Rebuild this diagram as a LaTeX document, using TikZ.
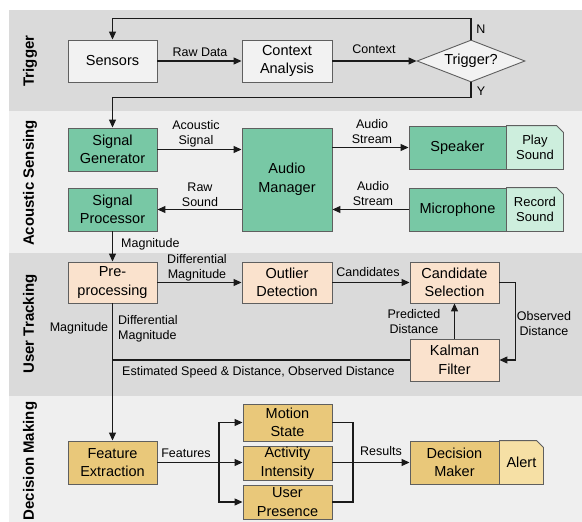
\documentclass[tikz,border=0pt]{standalone}
\usepackage{fontspec}
\setmainfont{Liberation Sans}
\usetikzlibrary{arrows.meta,shapes.geometric}
\definecolor{bandA}{HTML}{DADADA}
\definecolor{bandB}{HTML}{EFEFEF}
\definecolor{boxline}{HTML}{5F5F5F}
\definecolor{lineclr}{HTML}{1A1A1A}
\definecolor{grayfill}{HTML}{F2F2F2}
\definecolor{greenfill}{HTML}{78C8A5}
\definecolor{greenlight}{HTML}{CDEEDD}
\definecolor{peachfill}{HTML}{FAE2CD}
\definecolor{goldfill}{HTML}{E9C87A}
\definecolor{goldlight}{HTML}{F6E0A5}
\begin{document}
\begin{tikzpicture}[x=1pt,y=-1pt,
 box/.style={draw=boxline, line width=0.9pt, minimum width=89pt, minimum height=42pt, inner sep=1pt, align=center, font=\fontsize{14.5}{18.5}\selectfont},
 graybox/.style={box, fill=grayfill},
 greenbox/.style={box, fill=greenfill},
 peachbox/.style={box, fill=peachfill},
 goldbox/.style={box, fill=goldfill},
 side/.style={draw=boxline, line width=0.9pt},
 sidetext/.style={align=center, inner sep=0pt, font=\fontsize{13}{15}\selectfont},
 lbl/.style={font=\fontsize{12.5}{15}\selectfont, align=center, inner sep=0pt},
 sec/.style={font=\bfseries\fontsize{15}{17}\selectfont, rotate=90, inner sep=0pt},
 conn/.style={line width=1.1pt, draw=lineclr},
 arr/.style={conn, -{Triangle[length=8pt,width=7pt]}}]
\useasboundingbox (0,0) rectangle (582,522);
% bands
\fill[bandA] (9,10) rectangle (582,111);
\fill[bandB] (9,111) rectangle (582,253);
\fill[bandA] (9,253) rectangle (582,396);
\fill[bandB] (9,396) rectangle (582,522);
\node[sec] (s1) at (30,61) {Trigger};
\node[sec] (s2) at (30,183) {Acoustic Sensing};
\node[sec] (s3) at (30,324) {User Tracking};
\node[sec] (s4) at (30,461) {Decision Making};
% trigger row
\node[graybox] (sens) at (112.5,61) {Sensors};
\node[graybox, minimum width=90pt] (ctx) at (287,61) {Context\\Analysis};
\node[diamond, draw=boxline, fill=grayfill, line width=0.9pt, minimum width=108pt, minimum height=42pt, inner sep=0pt, aspect=2.6, font=\fontsize{14.5}{18.5}\selectfont] (trig) at (471,61) {Trigger?};
% acoustic row
\node[greenbox, minimum height=43pt] (sg) at (112.5,149.5) {Signal\\Generator};
\node[greenbox, minimum height=43pt] (sp) at (112.5,209.5) {Signal\\Processor};
\node[greenbox, minimum width=90pt, minimum height=103pt] (am) at (287,179.5) {Audio\\Manager};
\node[greenbox, minimum width=97pt, minimum height=43pt] (spk) at (457.5,147.5) {Speaker};
\node[greenbox, minimum width=97pt, minimum height=43pt] (mic) at (457.5,209.5) {Microphone};
\filldraw[side, fill=greenlight] (spk.north east) -- ++(50,0) -- ++(7,7) |- (spk.south east) -- cycle;
\filldraw[side, fill=greenlight] (mic.north east) -- ++(50,0) -- ++(7,7) |- (mic.south east) -- cycle;
\node[sidetext] (play) at ([xshift=28.5pt]spk.east) {Play\\Sound};
\node[sidetext] (rec) at ([xshift=28.5pt]mic.east) {Record\\Sound};
% user tracking row
\node[peachbox, minimum height=41pt] (pre) at (112.5,282.5) {Pre-\\processing};
\node[peachbox, minimum width=90pt, minimum height=41pt] (out) at (287,282.5) {Outlier\\Detection};
\node[peachbox, minimum height=41pt] (cand) at (454.5,282.5) {Candidate\\Selection};
\node[peachbox] (kal) at (454.5,360) {Kalman\\Filter};
% decision row
\node[goldbox, minimum height=43pt] (fe) at (112.5,462.5) {Feature\\Extraction};
\node[goldbox, minimum height=37pt] (ms) at (287.5,422.5) {Motion\\State};
\node[goldbox, minimum height=34pt] (ai) at (287.5,463) {Activity\\Intensity};
\node[goldbox, minimum height=34pt] (up) at (287.5,502) {User\\Presence};
\node[goldbox, minimum height=43pt] (dm) at (454.5,462.5) {Decision\\Maker};
\filldraw[side, fill=goldlight] (dm.north east) -- ++(37,0) -- ++(7,7) |- (dm.south east) -- cycle;
\node[sidetext, font=\fontsize{14.5}{17}\selectfont] (alert) at ([xshift=22pt]dm.east) {Alert};
% connectors trigger
\draw[arr] (sens.east) -- (ctx.west);
\draw[arr] (ctx.east) -- (trig.west);
\draw[arr] (trig.north) -- ++(0,-21) -| (sens.north);
\draw[arr] (trig.south) -- ++(0,15) -| (sg.north);
\node[lbl] (l1) at (200,52) {Raw Data};
\node[lbl] (l2) at (374,49) {Context};
\node[lbl] (lN) at (481,29) {N};
\node[lbl] (lY) at (481,91) {Y};
% connectors acoustic
\draw[arr] (sg.east) -- (sg.east -| am.west);
\draw[arr] (am.west |- sp.east) -- (sp.east);
\draw[arr] (am.east |- spk.west) -- (spk.west);
\draw[arr] (mic.west) -- (mic.west -| am.east);
\draw[arr] (sp.south) -- (pre.north);
\node[lbl] (l3) at (196,134) {Acoustic\\Signal};
\node[lbl] (l4) at (200,195) {Raw\\Sound};
\node[lbl] (l5) at (372,132) {Audio\\Stream};
\node[lbl] (l6) at (373,194) {Audio\\Stream};
\node[lbl, anchor=west] (l7) at (121,244) {Magnitude};
% connectors user tracking
\draw[arr] (pre.east) -- (out.west);
\draw[arr] (out.east) -- (cand.west);
\draw[arr] (cand.east) -- ++(16,0) |- (kal.east);
\draw[arr] (kal.north) -- (cand.south);
\draw[conn] (kal.west) -- (kal.west -| pre.south);
\draw[arr] (pre.south) -- (fe.north);
\node[lbl] (l8) at (197,268) {Differential\\Magnitude};
\node[lbl] (l9) at (368,272) {Candidates};
\node[lbl] (l10) at (414,322) {Predicted\\Distance};
\node[lbl] (l11) at (544,324) {Observed\\Distance};
\node[lbl] (l12) at (79,328) {Magnitude};
\node[lbl, anchor=west, align=left] (l13) at (118,329) {Differential\\Magnitude};
\node[lbl, anchor=west] (l14) at (122,372) {Estimated Speed \& Distance, Observed Distance};
% connectors decision
\coordinate (fk) at (219,462.5);
\coordinate (jn) at (353,462.5);
\draw[arr] (fe.east) -- (fe.east -| ai.west);
\draw[arr] (fk) |- (ms.west);
\draw[arr] (fk) |- (up.west);
\draw[conn] (ms.east) -| (jn);
\draw[conn] (up.east) -| (jn);
\draw[arr] (ai.east |- jn) -- (dm.west);
\node[lbl] (l15) at (186,453) {Features};
\node[lbl] (l16) at (381,451) {Results};
\end{tikzpicture}
\end{document}
